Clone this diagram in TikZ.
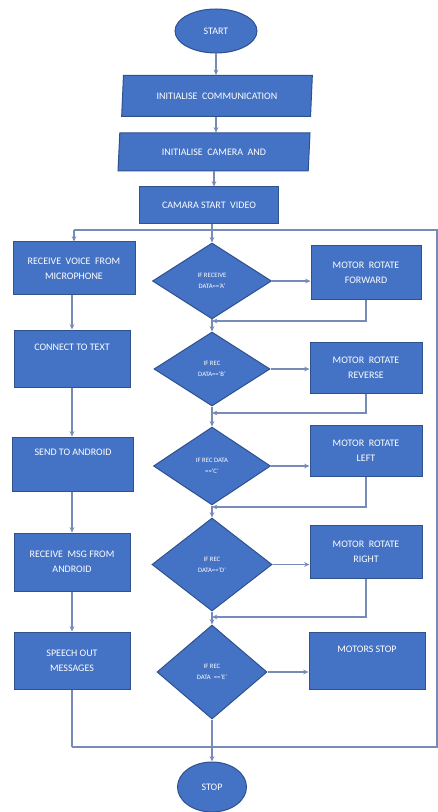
\documentclass[tikz,border=0pt]{standalone}
\usepackage{fontspec}
\setmainfont{Carlito}
\usetikzlibrary{shapes.geometric,arrows.meta}
\definecolor{boxblue}{RGB}{68,114,196}
\definecolor{boxedge}{RGB}{47,82,143}
\definecolor{flowgray}{RGB}{118,140,182}

\tikzset{every picture/.style={line width=0.75pt}}
\tikzset{
  terminal/.style={ellipse, fill=boxblue, draw=boxedge, text=white, inner sep=0pt, font=\fontsize{7.5}{9}\selectfont},
  procbox/.style={rectangle, fill=boxblue, draw=boxedge, text=white, align=center, inner sep=1pt, font=\fontsize{7.5}{11}\selectfont},
  iobox/.style={trapezium, trapezium left angle=79, trapezium right angle=101, trapezium stretches body, fill=boxblue, draw=boxedge, text=white, inner sep=1pt, font=\fontsize{7.5}{9}\selectfont},
  decision/.style={diamond, fill=boxblue, draw=boxedge, text=white, align=center, inner sep=0pt, font=\fontsize{5}{8}\selectfont},
  flowline/.style={draw=flowgray, line width=1pt},
  arr/.style={flowline, -{Stealth[length=4pt,width=3.5pt]}}
}

\begin{document}
\begin{tikzpicture}[x=0.75pt,y=0.75pt,yscale=-1,xscale=1]
\path[use as bounding box] (0,0) rectangle (438,812); %set diagram to 438 x 812

%Terminal: Start
\node[terminal, minimum width=61.5pt, minimum height=33pt] (start) at (216,31) {START};
%Data: Parallelograms
\node[iobox, minimum width=143pt, minimum height=30.75pt] (comm) at (217,96) {INITIALISE~~COMMUNICATION};
\node[iobox, minimum width=144pt, minimum height=28.5pt] (cam) at (214,152) {INITIALISE~~CAMERA~~AND};
%Process: Start video
\node[procbox, minimum width=104pt, minimum height=27.75pt] (video) at (209,205.5) {CAMARA START~~VIDEO};

%Left column
\node[procbox, minimum width=91.5pt, minimum height=39.75pt] (voice) at (74,268.5) {RECEIVE~~VOICE~~FROM\\MICROPHONE};
\node[procbox, minimum width=87pt, minimum height=42.75pt] (totext) at (72,358.5) {CONNECT TO TEXT\\[6pt]};
\node[procbox, minimum width=90.75pt, minimum height=40.5pt] (send) at (73,464) {SEND TO ANDROID\\[6pt]};
\node[procbox, minimum width=87pt, minimum height=43.5pt] (msg) at (72,562) {RECEIVE~~MSG FROM\\ANDROID};
\node[procbox, minimum width=87pt, minimum height=42.75pt] (speech) at (72,660.5) {SPEECH OUT\\MESSAGES};

%Decisions
\node[decision, minimum width=89.25pt, minimum height=57pt] (dA) at (212,281) {IF RECEIVE\\DATA=='A'};
\node[decision, minimum width=87pt, minimum height=55.5pt] (dB) at (212,369) {IF REC\\DATA=='B'};
\node[decision, minimum width=87.75pt, minimum height=58.5pt] (dC) at (212,466) {IF REC DATA\\=='C'};
\node[decision, minimum width=90pt, minimum height=69.75pt] (dD) at (212,564.5) {IF REC\\DATA=='D'};
\node[decision, minimum width=82.5pt, minimum height=70.5pt] (dE) at (212,672) {IF REC\\DATA~~=='E'};

%Right column
\node[procbox, minimum width=82.5pt, minimum height=40.5pt] (fwd) at (366,273) {MOTOR~~ROTATE\\FORWARD};
\node[procbox, minimum width=84pt, minimum height=38.25pt] (rev) at (366,367.5) {MOTOR~~ROTATE\\REVERSE};
\node[procbox, minimum width=84pt, minimum height=38.25pt] (left) at (366,450.5) {MOTOR~~ROTATE\\LEFT};
\node[procbox, minimum width=84pt, minimum height=39.75pt] (right) at (366,551.5) {MOTOR~~ROTATE\\RIGHT};
\node[procbox, minimum width=87pt, minimum height=42.75pt] (mstop) at (367,660.5) {MOTORS STOP\\[6pt]};

%Terminal: Stop
\node[terminal, minimum width=51.75pt, minimum height=37.5pt] (stop) at (212,787) {STOP};

%Loop corners and joins
\coordinate (tr) at (437,230);
\coordinate (brc) at (437,747);
\coordinate (jA) at (212,321);
\coordinate (jB) at (212,413);
\coordinate (jC) at (212,507);
\coordinate (jD) at (212,617);

%Top part
\draw[arr] (start.south) -- (start.south |- comm.north);
\draw[arr] (start.south |- comm.south) -- (start.south |- cam.north);
\draw[arr] (cam.south) -- (cam.south |- video.north);
\draw[arr] (dA.north |- video.south) -- (dA.north);

%Loop
\draw[flowline] (voice.north |- tr) -- (tr) -- (brc) -- (speech.south |- brc);
\draw[arr] (voice.north |- tr) -- (voice.north);

%Left column links
\draw[arr] (voice.south -| totext.north) -- (totext.north);
\draw[arr] (totext.south) -- (send.north -| totext.south);
\draw[arr] (send.south -| msg.north) -- (msg.north);
\draw[arr] (msg.south) -- (speech.north);
\draw[flowline] (speech.south) -- (speech.south |- brc);

%Decision to motor
\draw[arr] (dA.east) -- (dA.east -| fwd.west);
\draw[arr] (dB.east) -- (dB.east -| rev.west);
\draw[arr] (dC.east) -- (dC.east -| left.west);
\draw[arr] (dD.east) -- (dD.east -| right.west);
\draw[arr] (dE.east) -- (dE.east -| mstop.west);

%Decision chain
\draw[arr] (dA.south) -- (dB.north);
\draw[arr] (dB.south) -- (dC.north);
\draw[arr] (dC.south) -- (dD.north);
\draw[arr] (dD.south) -- (dE.north);
\draw[arr] (dE.south) -- (stop.north);

%Returns
\draw[arr] (fwd.south) |- (jA);
\draw[arr] (rev.south) |- (jB);
\draw[arr] (left.south) |- (jC);
\draw[arr] (right.south) |- (jD);

\end{tikzpicture}
\end{document}
